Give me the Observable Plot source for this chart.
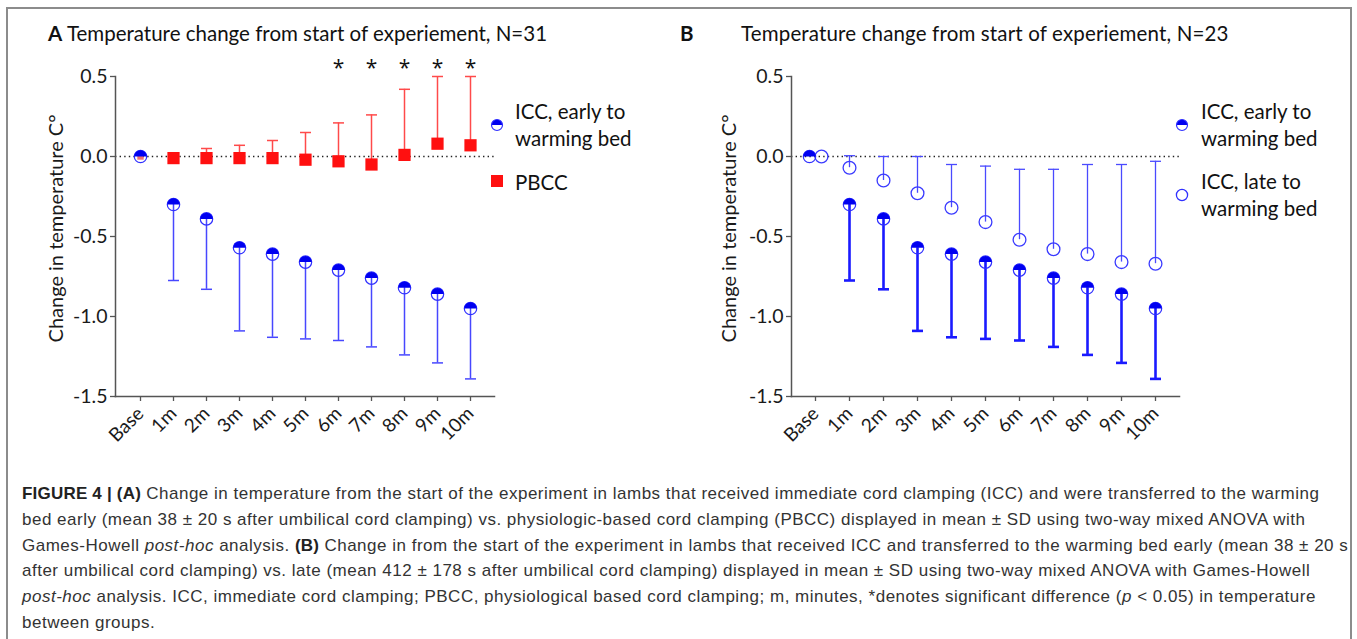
<!DOCTYPE html>
<html><head><meta charset="utf-8">
<script src="https://cdn.jsdelivr.net/npm/d3@7"></script>
<script src="https://cdn.jsdelivr.net/npm/@observablehq/plot@0.6"></script>
<style>
body{margin:0;background:#fff;}
#fig{position:relative;width:1357px;height:639px;overflow:hidden;font-family:Lato,"Open Sans",sans-serif;color:#111;}
#box{position:absolute;left:6px;top:7px;width:1346px;height:700px;border:2px solid #8c8c8c;box-sizing:border-box;}
.plot{position:absolute;top:0;}
.t{position:absolute;white-space:nowrap;font-size:20.5px;line-height:1;}
.lg{position:absolute;white-space:nowrap;font-size:20.5px;line-height:27px;}
.mk{position:absolute;overflow:visible;}
#cap{position:absolute;left:22px;top:481px;font-family:"Liberation Sans",Arial,sans-serif;font-size:17px;letter-spacing:0.5px;line-height:25.8px;color:#333;white-space:nowrap;}
#cap b{color:#222;letter-spacing:0.2px}
</style></head>
<body><div id="fig">
<div id="box"></div>
<div id="pa" class="plot" style="left:0"></div>
<div id="pb" class="plot" style="left:680px"></div>
<div class="t" style="left:48px;top:23px"><b>A</b> Temperature change from start of experiement, N=31</div>
<div class="t" style="left:680px;top:23px"><b>B</b></div>
<div class="t" style="left:741px;top:23px;letter-spacing:0.15px">Temperature change from start of experiement, N=23</div>
<div class="lg" style="left:515px;top:98px">ICC, early to<br>warming bed</div>
<div class="lg" style="left:515px;top:169px">PBCC</div>
<div class="lg" style="left:1201px;top:98px">ICC, early to<br>warming bed</div>
<div class="lg" style="left:1201px;top:168px">ICC, late to<br>warming bed</div>
<svg class="mk" style="left:491px;top:119px" width="12" height="12"><path d="M0.5,6A5.5,5.5 0 0 1 11.5,6Z" fill="#0000f0"/><circle cx="6" cy="6" r="5.5" fill="none" stroke="#3030ff" stroke-width="1.2"/></svg>
<svg class="mk" style="left:491px;top:175px" width="12" height="12"><rect x="0" y="0" width="12" height="12" fill="#ff1010"/></svg>
<svg class="mk" style="left:1176px;top:119px" width="12" height="12"><path d="M0.5,6A5.5,5.5 0 0 1 11.5,6Z" fill="#0000f0"/><circle cx="6" cy="6" r="5.5" fill="none" stroke="#3030ff" stroke-width="1.2"/></svg>
<svg class="mk" style="left:1176px;top:189px" width="12" height="12"><circle cx="6" cy="6" r="5.6" fill="none" stroke="#3030ff" stroke-width="1.3"/></svg>
<div id="cap"><b>FIGURE 4 | (A)</b> Change in temperature from the start of the experiment in lambs that received immediate cord clamping (ICC) and were transferred to the warming<br>bed early (mean 38 ± 20 s after umbilical cord clamping) vs. physiologic-based cord clamping (PBCC) displayed in mean ± SD using two-way mixed ANOVA with<br>Games-Howell <i>post-hoc</i> analysis. <b>(B)</b> Change in from the start of the experiment in lambs that received ICC and transferred to the warming bed early (mean 38 ± 20 s<br>after umbilical cord clamping) vs. late (mean 412 ± 178 s after umbilical cord clamping) displayed in mean ± SD using two-way mixed ANOVA with Games-Howell<br><i>post-hoc</i> analysis. ICC, immediate cord clamping; PBCC, physiological based cord clamping; m, minutes, *denotes significant difference (<i>p</i> &lt; 0.05) in temperature<br>between groups.</div>
</div>
<script>
const times = ["Base","1m","2m","3m","4m","5m","6m","7m","8m","9m","10m"];
const iccEarlyMean = [0, -0.30, -0.39, -0.57, -0.61, -0.66, -0.71, -0.76, -0.82, -0.86, -0.95];
const iccEarlySD   = [0, 0.475, 0.44, 0.52, 0.52, 0.48, 0.44, 0.43, 0.42, 0.43, 0.44];
const pbccMean     = [0, -0.01, -0.01, -0.01, -0.01, -0.02, -0.03, -0.05, 0.01, 0.08, 0.07];
const pbccSD       = [0, 0.02, 0.06, 0.08, 0.11, 0.17, 0.24, 0.31, 0.41, 0.42, 0.43];
const iccLateMean  = [0, -0.07, -0.15, -0.23, -0.32, -0.41, -0.52, -0.58, -0.61, -0.66, -0.67];
const iccLateSD    = [0, 0.075, 0.15, 0.23, 0.27, 0.35, 0.44, 0.50, 0.56, 0.61, 0.64];
const sigTimesA = ["6m","7m","8m","9m","10m"];
const yTicks = [-1.5, -1.0, -0.5, 0.0, 0.5];
const yLabel = "Change in temperature C°";

const rows = (m, s) => times.map((t, i) => ({t, mean: m[i], sd: s[i]}));
const early = rows(iccEarlyMean, iccEarlySD);
const pbcc = rows(pbccMean, pbccSD);
const late = rows(iccLateMean, iccLateSD);
const isBase = d => d.t === "Base";
const notBase = d => d.t !== "Base";

const halfTop = {draw(ctx, size) { const r = Math.sqrt(size / Math.PI); ctx.moveTo(r, 0); ctx.arc(0, 0, r, 0, Math.PI, true); ctx.closePath(); }};
const hline = {draw(ctx, size) { const r = Math.sqrt(size / Math.PI); ctx.moveTo(-r, 0); ctx.lineTo(r, 0); }};
const FONT = 'Lato, "Open Sans", sans-serif';

function base(width, mL, mR, labelDx, marks) {
  return Plot.plot({
    width, height: 450, marginLeft: mL, marginRight: mR, marginTop: 76, marginBottom: 54,
    style: {fontFamily: FONT, fontSize: "19px", color: "#1a1a1a", background: "transparent", overflow: "visible"},
    x: {type: "point", domain: times, padding: 0.67},
    y: {domain: [-1.5, 0.5]},
    marks: [
      Plot.ruleY([0], {stroke: "#222", strokeWidth: 1.4, strokeDasharray: "1.4,3.2"}),
      Plot.axisX({tickSize: 5, tickRotate: -45, fontSize: 19, label: null, tickPadding: 9, stroke: "#555", strokeWidth: 1.3}),
      Plot.axisY({ticks: yTicks, tickFormat: d => d.toFixed(1), tickSize: 5, tickPadding: 3, fontSize: 19.5, label: null, stroke: "#555", strokeWidth: 1.3}),
      Plot.text([yLabel], {text: d => d, frameAnchor: "left", textAnchor: "middle", rotate: -90, dx: labelDx, dy: -8, fontSize: 20, fill: "#1a1a1a"}),
      Plot.frame({anchor: "left", stroke: "#555", strokeWidth: 1.5}),
      Plot.frame({anchor: "bottom", stroke: "#555", strokeWidth: 1.5}),
      ...marks
    ]
  });
}

const bars = (data, dir, stroke, w) => {
  const d = data.filter(r => r.sd > 0);
  const end = r => r.mean + dir * r.sd;
  return [
    Plot.ruleX(d, {x: "t", y1: "mean", y2: end, stroke, strokeWidth: w}),
    Plot.dot(d, {x: "t", y: end, symbol: hline, r: 5.5, fill: "none", stroke, strokeWidth: w})
  ];
};
const halfCircles = (data, opts = {}) => [
  Plot.dot(data, {x: "t", y: "mean", r: 6.2, fill: "none", stroke: "#3030ff", strokeWidth: 1.2, ...opts}),
  Plot.dot(data, {x: "t", y: "mean", r: 6.2, symbol: halfTop, fill: "#0000f0", stroke: "none", ...opts})
];

const chartA = base(680, 115, 186, -59, [
  ...bars(pbcc, 1, "#ff4a4a", 1.5),
  ...bars(early, -1, "#4747ff", 1.5),
  Plot.dot(pbcc.filter(notBase), {x: "t", y: "mean", symbol: "square", r: 6.9, fill: "#ff1010"}),
  Plot.dot(pbcc.filter(isBase), {x: "t", y: "mean", symbol: "square", r: 3.6, fill: "#f07070"}),
  ...halfCircles(early),
  Plot.text(sigTimesA, {x: d => d, text: () => "*", frameAnchor: "top", dy: -2, lineAnchor: "bottom", fontSize: 21, fontFamily: '"Open Sans", sans-serif', fill: "#111"})
]);
document.getElementById("pa").append(chartA);

const chartB = base(677, 111, 178, -62, [
  ...bars(late, 1, "#4a4aff", 1.3),
  ...bars(early, -1, "#1a1aff", 2.6),
  Plot.dot(late.filter(notBase), {x: "t", y: "mean", r: 6.4, fill: "none", stroke: "#3a3aff", strokeWidth: 1.3}),
  Plot.dot(late.filter(isBase), {x: "t", y: "mean", r: 6.4, fill: "none", stroke: "#3a3aff", strokeWidth: 1.3, dx: 6}),
  ...halfCircles(early.filter(notBase)),
  ...halfCircles(early.filter(isBase), {dx: -6})
]);
document.getElementById("pb").append(chartB);
</script>
</body></html>
